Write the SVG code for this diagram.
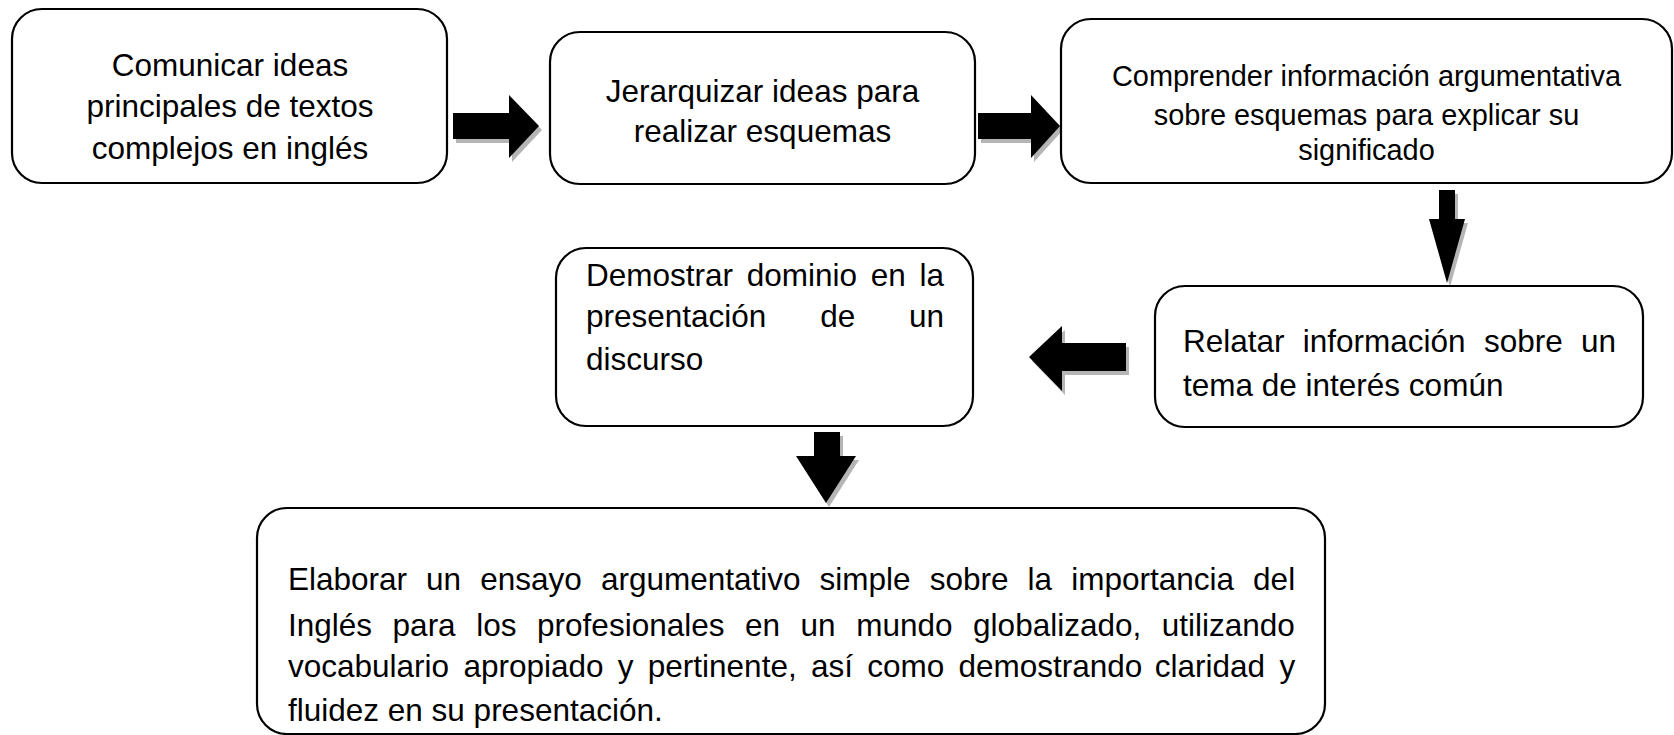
<svg xmlns="http://www.w3.org/2000/svg" width="1674" height="735" viewBox="0 0 1674 735">
<style>
.box{fill:#fff;stroke:#000;stroke-width:2.2}
.t{font-family:"Liberation Sans",Arial,sans-serif;font-size:31.5px;fill:#000}
.s{font-size:28.9px}
.c{text-anchor:middle}
.arrow{fill:#000}
.shadow{fill:#b5b5b5}
</style>
<rect width="1674" height="735" fill="#fff"/>
<defs>
<path id="a1" d="M453,113 H509 V95 L539,126 L509,158 V139 H453 Z"/>
<path id="a2" d="M978,113 H1031 V95 L1060,126 L1031,158 V139 H978 Z"/>
<path id="a3" d="M1439,190 H1455 V219 H1465 L1447,283 L1429,219 H1439 Z"/>
<path id="a4" d="M1126,343 H1062 V326 L1029,357 L1062,391 V371 H1126 Z"/>
<path id="a5" d="M814,432 H840 V456 H856 L826,503 L796,456 H814 Z"/>
</defs>
<g id="connectors">
<use href="#a1" class="shadow" transform="translate(3,4)"/>
<use href="#a1" class="arrow"/>
<use href="#a2" class="shadow" transform="translate(3,4)"/>
<use href="#a2" class="arrow"/>
<use href="#a3" class="shadow" transform="translate(3,4)"/>
<use href="#a3" class="arrow"/>
<use href="#a4" class="shadow" transform="translate(3,4)"/>
<use href="#a4" class="arrow"/>
<use href="#a5" class="shadow" transform="translate(3,4)"/>
<use href="#a5" class="arrow"/>
</g>
<g id="n1">
<rect class="box" x="12" y="9" width="435" height="174" rx="30"/>
<text class="t c" x="230" y="75.5">Comunicar ideas</text>
<text class="t c" x="230" y="117">principales de textos</text>
<text class="t c" x="230" y="158.5">complejos en inglés</text>
</g>
<g id="n2">
<rect class="box" x="550" y="32" width="425" height="152" rx="30"/>
<text class="t c" x="762.5" y="102">Jerarquizar ideas para</text>
<text class="t c" x="762.5" y="142">realizar esquemas</text>
</g>
<g id="n3">
<rect class="box" x="1061" y="19" width="611" height="164" rx="30"/>
<text class="t s c" x="1366.5" y="86">Comprender información argumentativa</text>
<text class="t s c" x="1366.5" y="124.5">sobre esquemas para explicar su</text>
<text class="t s c" x="1366.5" y="160">significado</text>
</g>
<g id="n4">
<rect class="box" x="1155" y="286" width="488" height="141" rx="30"/>
<text class="t" y="352"><tspan x="1183">Relatar</tspan><tspan x="1302.8">información</tspan><tspan x="1483.9">sobre</tspan><tspan x="1581">un</tspan></text>
<text class="t" x="1183" y="396">tema de interés común</text>
</g>
<g id="n5">
<rect class="box" x="556" y="248" width="417" height="178" rx="30"/>
<text class="t" y="286"><tspan x="586">Demostrar</tspan><tspan x="746.7">dominio</tspan><tspan x="870.7">en</tspan><tspan x="919.4">la</tspan></text>
<text class="t" y="327"><tspan x="586">presentación</tspan><tspan x="820.2">de</tspan><tspan x="909.1">un</tspan></text>
<text class="t" x="586" y="370">discurso</text>
</g>
<g id="n6">
<rect class="box" x="257" y="508" width="1068" height="226" rx="30"/>
<text class="t" y="590"><tspan x="288">Elaborar</tspan><tspan x="426.1">un</tspan><tspan x="480.2">ensayo</tspan><tspan x="600.9">argumentativo</tspan><tspan x="819.6">simple</tspan><tspan x="929.7">sobre</tspan><tspan x="1027.6">la</tspan><tspan x="1071.2">importancia</tspan><tspan x="1253.1">del</tspan></text>
<text class="t" y="636"><tspan x="288">Inglés</tspan><tspan x="392.6">para</tspan><tspan x="476.2">los</tspan><tspan x="537.1">profesionales</tspan><tspan x="745">en</tspan><tspan x="800.6">un</tspan><tspan x="856.2">mundo</tspan><tspan x="973.1">globalizado,</tspan><tspan x="1161.8">utilizando</tspan></text>
<text class="t" y="677"><tspan x="288">vocabulario</tspan><tspan x="463.4">apropiado</tspan><tspan x="617.8">y</tspan><tspan x="647.8">pertinente,</tspan><tspan x="810.9">así</tspan><tspan x="867.2">como</tspan><tspan x="958.5">demostrando</tspan><tspan x="1154.8">claridad</tspan><tspan x="1279.4">y</tspan></text>
<text class="t" x="288" y="721">fluidez en su presentación.</text>
</g>
</svg>
